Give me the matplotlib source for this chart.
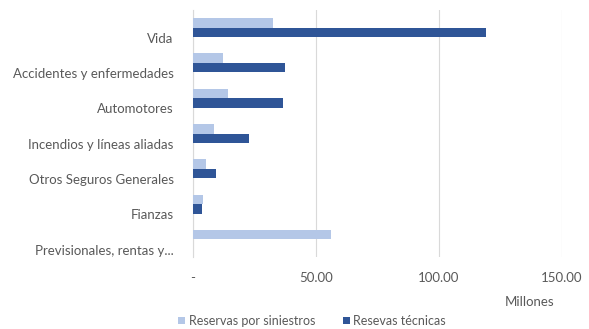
import numpy as np
import matplotlib
matplotlib.use("Agg")
from matplotlib import pyplot as plt

plt.rcParams['font.family'] = ['Lato', 'DejaVu Sans']

# Reservas por ramo (millones)
ramos = ["Vida", "Accidentes y enfermedades", "Automotores",
         "Incendios y líneas aliadas", "Otros Seguros Generales",
         "Fianzas", "Previsionales, rentas y..."]
reservas_siniestros = [32.5, 12.2, 14.2, 8.5, 5.3, 4.1, 56.1]
reservas_tecnicas = [119.1, 37.4, 36.6, 22.8, 9.3, 3.8, 0.0]
ticks_x = [0, 50, 100, 150]
ticks_x_labels = ["-", "50.00", "100.00", "150.00"]

light = "#b4c7e7"
dark = "#2f5597"
gray = "#595959"

fig = plt.figure(figsize=(5.89, 3.29), dpi=100)
ax = fig.add_axes([193 / 589, 1 - 257 / 329, (562 - 193) / 589, (257 - 10) / 329])

y = np.arange(len(ramos))
h = 0.27
ax.barh(y - h / 2, reservas_siniestros, height=h, color=light, label="Reservas por siniestros", zorder=3)
ax.barh(y + h / 2, reservas_tecnicas, height=h, color=dark, label="Resevas técnicas", zorder=3)

ax.set_ylim(len(ramos) - 0.5, -0.5)
ax.set_xlim(0, 150)
ax.set_yticks(y + 0.29)
ax.set_yticklabels(ramos, fontsize=9.5, color=gray)
ax.set_xticks(ticks_x)
ax.set_xticklabels(ticks_x_labels, fontsize=9.5, color=gray)
ax.tick_params(axis='both', length=0)
ax.tick_params(axis='y', pad=14)
ax.tick_params(axis='x', pad=11)

ax.grid(axis='x', color="#d9d9d9", linewidth=0.8, zorder=0)
for s in ["top", "right", "bottom"]:
    ax.spines[s].set_visible(False)
ax.spines["left"].set_color("#d9d9d9")
ax.spines["left"].set_linewidth(0.8)

fig.text(530 / 589, 1 - 302 / 329, "Millones", fontsize=9.5, color=gray, ha='center', va='center')

leg = fig.legend(loc='center', bbox_to_anchor=(312 / 589, 1 - 321 / 329), ncol=2, frameon=False,
                 fontsize=9, handlelength=0.55, handleheight=0.55, columnspacing=2.2, handletextpad=0.3)
for t in leg.get_texts():
    t.set_color(gray)

fig.savefig("out.png", dpi=100)
